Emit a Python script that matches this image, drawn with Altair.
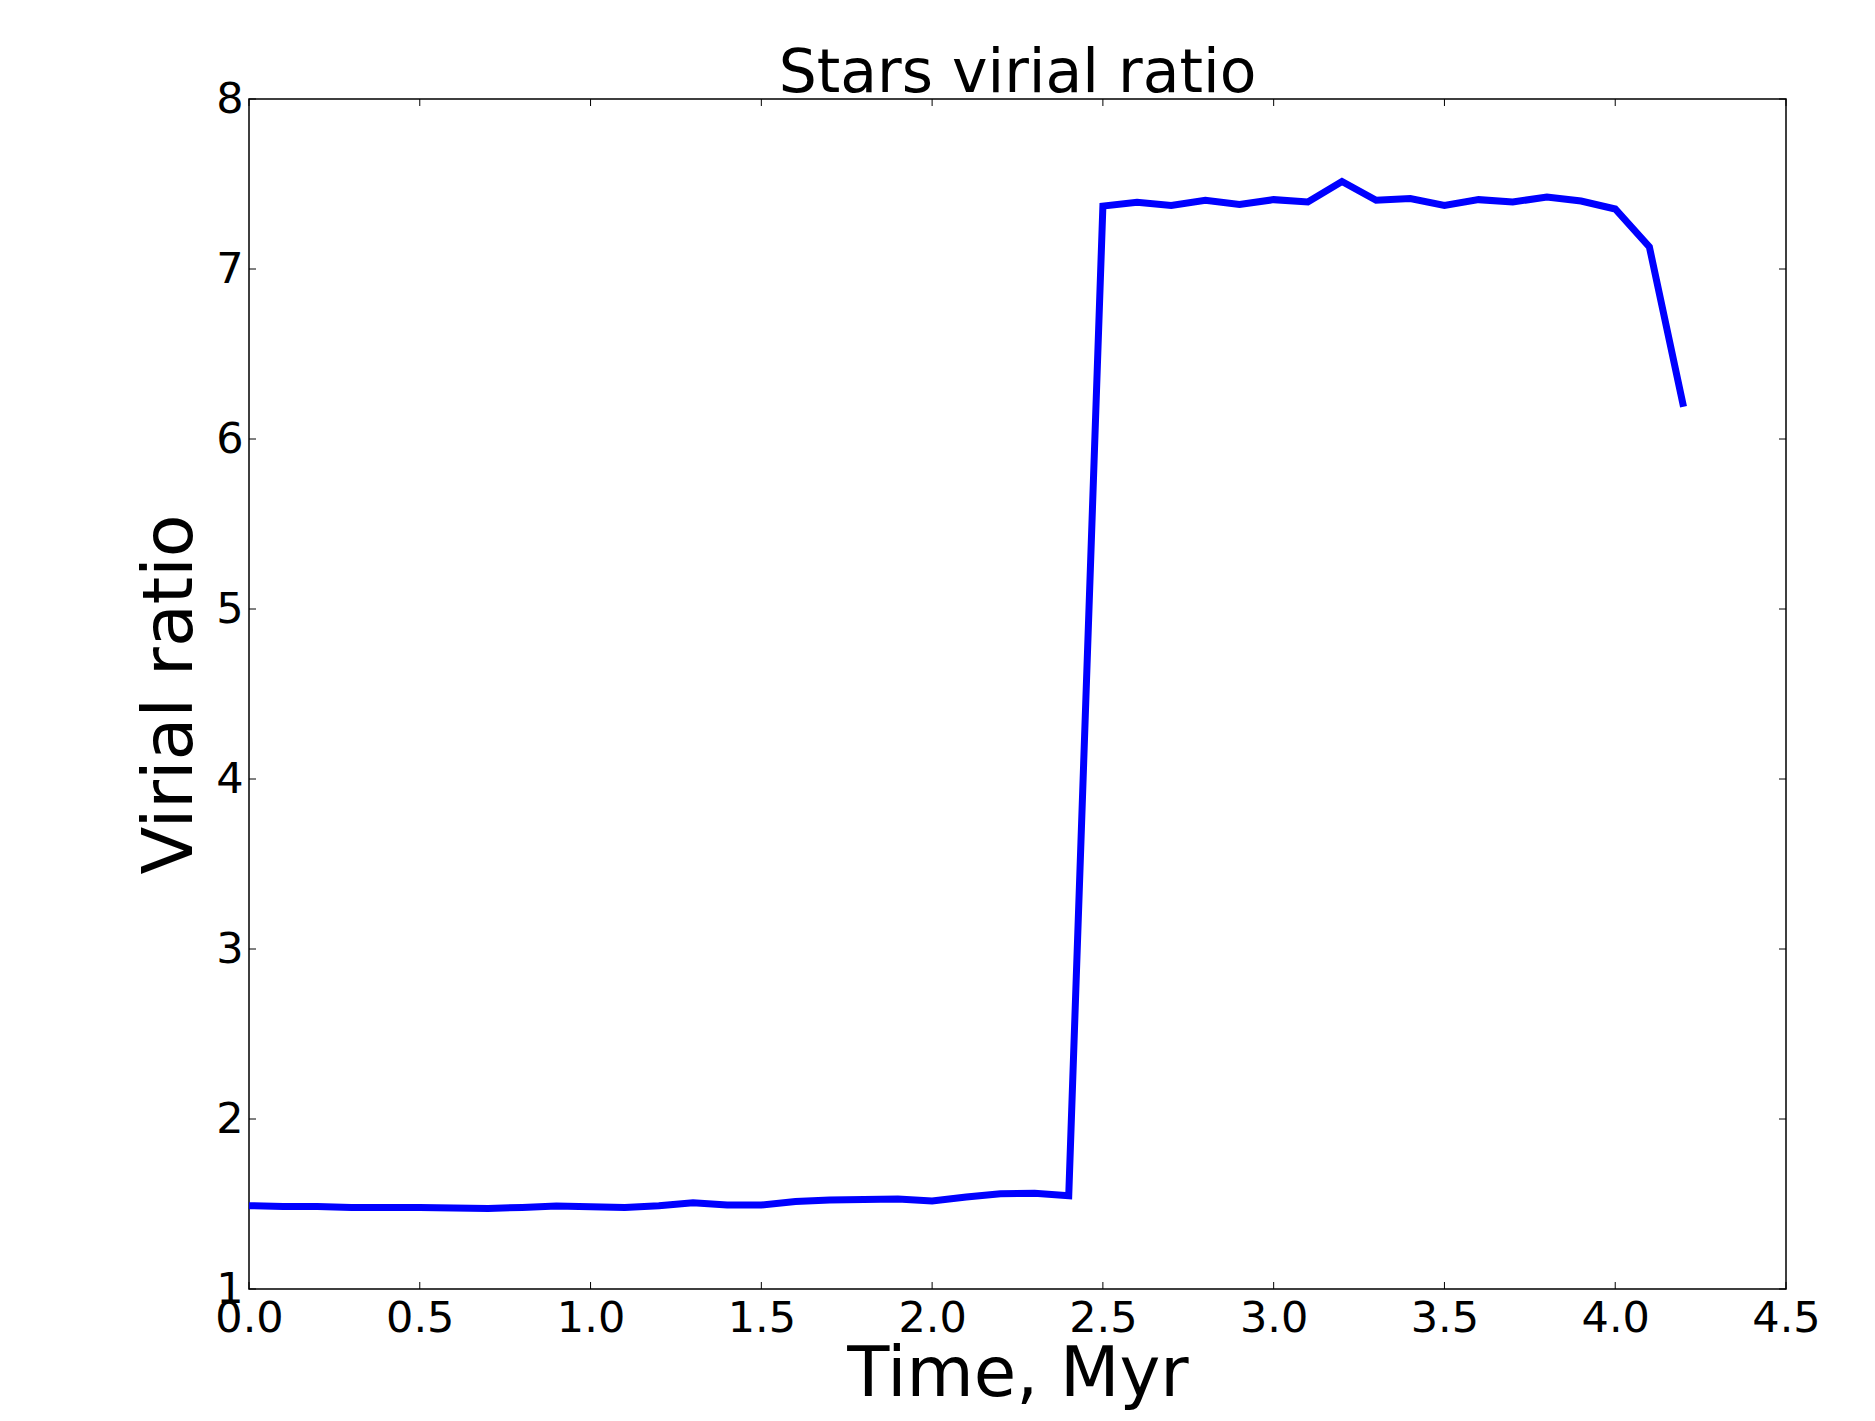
import altair as alt
import pandas as pd

time_myr = [round(i * 0.1, 1) for i in range(43)]
virial = [1.490, 1.486, 1.486, 1.480, 1.480, 1.480, 1.476, 1.474, 1.480, 1.488,
          1.484, 1.480, 1.490, 1.508, 1.494, 1.494, 1.515, 1.523, 1.527, 1.530,
          1.518, 1.541, 1.560, 1.563, 1.549,
          7.370, 7.392, 7.374, 7.404, 7.380, 7.408, 7.394, 7.515, 7.404, 7.414,
          7.374, 7.408, 7.394, 7.424, 7.400, 7.353, 7.130, 6.190]

x_ticks = [0.0, 0.5, 1.0, 1.5, 2.0, 2.5, 3.0, 3.5, 4.0, 4.5]
y_ticks = [1, 2, 3, 4, 5, 6, 7, 8]

W, H = 1537, 1190
TL = 7

df = pd.DataFrame({"t": time_myr, "v": virial})
xt = pd.DataFrame({"t": x_ticks})
yt = pd.DataFrame({"v": y_ticks})

xs = alt.Scale(domain=[0, 4.5], nice=False, zero=False)
ys = alt.Scale(domain=[1, 8], nice=False, zero=False)

FONT = "DejaVu Sans"

line = alt.Chart(df).mark_line(color="#0000FF", strokeWidth=7, strokeJoin="miter", clip=True).encode(
    x=alt.X("t:Q", scale=xs,
            axis=alt.Axis(values=x_ticks, format=".1f", title="Time, Myr", ticks=False,
                          domain=False, grid=False, labelFontSize=43, labelFont=FONT,
                          labelColor="black", labelPadding=8, titleFontSize=69,
                          titleFont=FONT, titleFontWeight="normal", titleColor="black",
                          titlePadding=0, labelFlush=False, labelOverlap=False)),
    y=alt.Y("v:Q", scale=ys,
            axis=alt.Axis(values=y_ticks, format="d", title="Virial ratio", ticks=False,
                          domain=False, grid=False, labelFontSize=43, labelFont=FONT,
                          labelColor="black", labelPadding=6, titleFontSize=70,
                          titleFont=FONT, titleFontWeight="normal", titleColor="black",
                          titlePadding=9, labelFlush=False, labelOverlap=False)),
)

tick_style = dict(color="black", strokeWidth=1)
xb = alt.Chart(xt).mark_rule(**tick_style).encode(
    x=alt.X("t:Q", scale=xs), y=alt.value(H), y2=alt.value(H - TL))
xtop = alt.Chart(xt).mark_rule(**tick_style).encode(
    x=alt.X("t:Q", scale=xs), y=alt.value(0), y2=alt.value(TL))
yl = alt.Chart(yt).mark_rule(**tick_style).encode(
    y=alt.Y("v:Q", scale=ys), x=alt.value(0), x2=alt.value(TL))
yr = alt.Chart(yt).mark_rule(**tick_style).encode(
    y=alt.Y("v:Q", scale=ys), x=alt.value(W), x2=alt.value(W - TL))

chart = alt.layer(line, xb, xtop, yl, yr).properties(
    width=W, height=H,
    background="white",
    title=alt.Title("Stars virial ratio", fontSize=60, font=FONT, fontWeight="normal",
                    color="black", offset=8, dy=35),
    autosize=alt.AutoSizeParams(type="none"),
    padding={"left": 241, "top": 91, "right": 60, "bottom": 124},
).configure_view(stroke="black", strokeWidth=1.5)

chart.save("out.html", embed_options={"renderer": "svg", "actions": False})
